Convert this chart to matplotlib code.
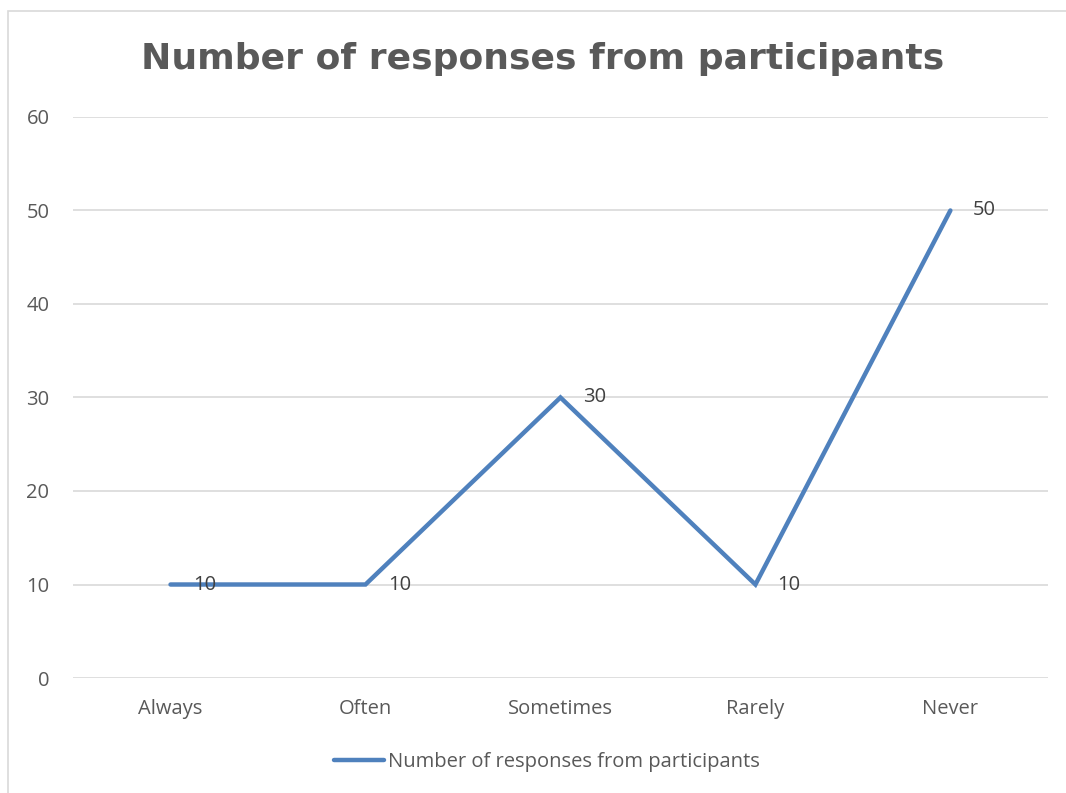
import matplotlib
matplotlib.use("Agg")
import matplotlib.pyplot as plt
import matplotlib.patches as mpatches

categories = ["Always", "Often", "Sometimes", "Rarely", "Never"]
responses = [10, 10, 30, 10, 50]
y_ticks = [0, 10, 20, 30, 40, 50, 60]
series_name = "Number of responses from participants"

LINE_COLOR = "#4F81BD"
TEXT_COLOR = "#595959"
GRID_COLOR = "#D9D9D9"

plt.rcParams["font.family"] = ["Open Sans", "DejaVu Sans"]

fig = plt.figure(figsize=(10.66, 7.93), dpi=100)
ax = fig.add_axes([0.0685, 0.145, 0.9145, 0.7075])

# outer chart frame
fig.patches.append(mpatches.Rectangle((8 / 1066, -0.1), 1.2, 1 - 11 / 793 + 0.1,
                                      transform=fig.transFigure, fill=False,
                                      edgecolor=GRID_COLOR, linewidth=1.2))

x = list(range(len(categories)))
ax.plot(x, responses, color=LINE_COLOR, linewidth=3.2, solid_capstyle="round",
        solid_joinstyle="miter", label=series_name, zorder=3)

for xi, v in zip(x, responses):
    ax.annotate(str(v), (xi, v), xytext=(16, 0), textcoords="offset points",
                ha="left", va="center", fontsize=14.5, color="#404040", zorder=4)

ax.set_xlim(-0.5, len(categories) - 0.5)
ax.set_ylim(0, 60)
ax.set_yticks(y_ticks)
ax.set_xticks(x)
ax.set_xticklabels(categories)
ax.yaxis.grid(True, color=GRID_COLOR, linewidth=1.2)
ax.set_axisbelow(True)
for s in ax.spines.values():
    s.set_visible(False)
ax.tick_params(axis="both", length=0, labelsize=14.5, labelcolor=TEXT_COLOR)
ax.tick_params(axis="y", pad=17)
ax.tick_params(axis="x", pad=15)

fig.text(0.509, 0.925, series_name, ha="center", va="center", fontsize=26,
         fontweight="bold", color=TEXT_COLOR, family=["DejaVu Sans"])

leg = fig.legend(handles=[plt.Line2D([0], [0], color=LINE_COLOR, lw=3.2,
                                     solid_capstyle="round")],
                 labels=[series_name], loc="center", bbox_to_anchor=(0.513, 0.039),
                 frameon=False, fontsize=14.5, handlelength=2.5, handletextpad=0.2)
for t in leg.get_texts():
    t.set_color(TEXT_COLOR)

fig.savefig("out.png", dpi=100, facecolor="white")
